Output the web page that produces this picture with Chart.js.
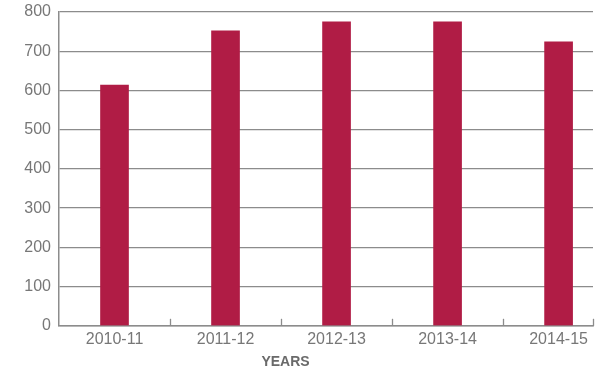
<!DOCTYPE html>
<html lang="en">
<head>
    <meta charset="UTF-8">
    <title>Years</title>
    <script src="https://cdn.jsdelivr.net/npm/chart.js"></script>
    <style>
        html, body { margin: 0; padding: 0; background: #fff; overflow: hidden; }
        .chart-container { position: relative; width: 597px; height: 373px; }
    </style>
</head>
<body>
    <div class="chart-container">
        <canvas id="yearsChart"></canvas>
    </div>

    <script>
        // Значения по годам
        const years = ['2010-11', '2011-12', '2012-13', '2013-14', '2014-15'];
        const values = [614, 752, 775, 775, 724];
        const yTicks = [0, 100, 200, 300, 400, 500, 600, 700, 800];

        const barColor = '#b01c45';
        const gridColor = '#8c8c8c';
        const labelFont = { family: '"Liberation Sans Narrow", "Liberation Sans", Arial, sans-serif', size: 16 };

        // Короткие риски вверх от оси X на границах категорий
        const innerTicks = {
            id: 'innerTicks',
            afterDraw(chart) {
                const ctx = chart.ctx;
                const x = chart.scales.x;
                const bottom = chart.chartArea.bottom;
                const marks = [];
                for (let i = 1; i < years.length; i++) marks.push(x.getPixelForValue(i));
                marks.push(x.right - 0.5);
                ctx.save();
                ctx.strokeStyle = gridColor;
                ctx.lineWidth = 1.3;
                marks.forEach(px => {
                    ctx.beginPath();
                    ctx.moveTo(Math.round(px) + 0.5, bottom);
                    ctx.lineTo(Math.round(px) + 0.5, bottom - 7);
                    ctx.stroke();
                });
                ctx.restore();
            }
        };

        // Подпись оси X
        const axisTitle = {
            id: 'axisTitle',
            afterDraw(chart) {
                const ctx = chart.ctx;
                ctx.save();
                ctx.fillStyle = '#6a6a6a';
                ctx.font = 'bold 14px "Liberation Sans", Arial, sans-serif';
                ctx.textAlign = 'center';
                ctx.textBaseline = 'alphabetic';
                ctx.fillText('YEARS', chart.width / 2 - 13, 366);
                ctx.restore();
            }
        };

        const ctx = document.getElementById('yearsChart').getContext('2d');
        new Chart(ctx, {
            type: 'bar',
            data: {
                datasets: [{
                    label: 'Years',
                    data: values.map((v, i) => ({ x: i + 0.5, y: v })),
                    backgroundColor: barColor,
                    borderWidth: 0,
                    barThickness: 28
                }]
            },
            options: {
                responsive: true,
                maintainAspectRatio: false,
                animation: false,
                layout: { padding: { top: 12, right: 4, bottom: 20, left: 0 } },
                plugins: {
                    legend: { display: false },
                    tooltip: { enabled: false }
                },
                scales: {
                    x: {
                        type: 'linear',
                        offset: false,
                        min: 0,
                        max: 4.81,
                        afterBuildTicks: scale => {
                            scale.ticks = years.map((_, i) => ({ value: i + 0.5 }));
                        },
                        ticks: {
                            autoSkip: false,
                            maxRotation: 0,
                            padding: 4,
                            color: '#777',
                            font: labelFont,
                            callback: (v, i) => years[i]
                        },
                        grid: { display: false, drawOnChartArea: false, drawTicks: false },
                        border: { color: gridColor, width: 1.5 }
                    },
                    y: {
                        min: 0,
                        max: 800,
                        afterBuildTicks: scale => {
                            scale.ticks = yTicks.map(v => ({ value: v }));
                        },
                        afterFit: scale => {
                            scale.width = 59;
                            scale.paddingTop = 0;
                            scale.paddingBottom = 0;
                        },
                        ticks: {
                            padding: 8,
                            color: '#777',
                            font: labelFont
                        },
                        grid: { color: gridColor, lineWidth: 1.3, drawTicks: false },
                        border: { color: gridColor, width: 1.5 }
                    }
                }
            },
            plugins: [innerTicks, axisTitle]
        });
    </script>
</body>
</html>
